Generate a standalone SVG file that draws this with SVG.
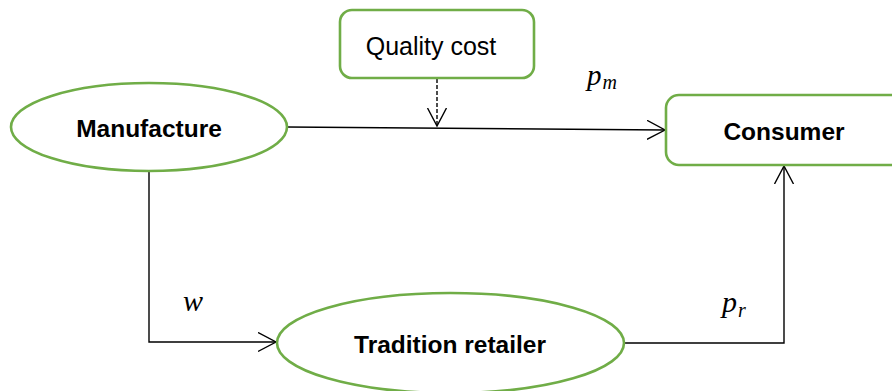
<svg xmlns="http://www.w3.org/2000/svg" width="892" height="391" viewBox="0 0 892 391">
  <style>
    .node { fill: #ffffff; stroke: #70ad47; stroke-width: 2.6; }
    .label { font-family: "Liberation Sans", Arial, sans-serif; fill: #000000; text-anchor: middle; }
    .bold { font-weight: bold; font-size: 24.5px; }
    .reg { font-size: 25px; }
    .link { fill: none; stroke: #000000; stroke-width: 1.4; }
    .dash { stroke-dasharray: 4 2; }
    .math { font-family: "Liberation Serif", "Times New Roman", serif; font-style: italic; fill: #000000; }
  </style>
  <defs>
    <marker id="chev" markerUnits="userSpaceOnUse" markerWidth="20" markerHeight="22" refX="18" refY="10" orient="auto" viewBox="0 0 20 22">
      <path d="M0,0.5 L18,10 L0,19.5" fill="none" stroke="#000000" stroke-width="1.4"/>
    </marker>
  </defs>
  <rect width="892" height="391" fill="#ffffff"/>

  <g id="connectors">
    <path class="link" d="M287,127 L665,130" marker-end="url(#chev)"/>
    <path class="link dash" d="M437,79 L437,126" marker-end="url(#chev)"/>
    <path class="link" d="M149,171 L149,342 L276,342" marker-end="url(#chev)"/>
    <path class="link" d="M624,343 L784,343 L784,166" marker-end="url(#chev)"/>
  </g>

  <g id="quality-cost">
    <rect class="node" x="340" y="10" width="194" height="68" rx="12"/>
    <text class="label reg" x="431" y="55">Quality cost</text>
  </g>

  <g id="manufacture">
    <ellipse class="node" cx="149" cy="127" rx="138" ry="44"/>
    <text class="label bold" x="149" y="137">Manufacture</text>
  </g>

  <g id="consumer">
    <rect class="node" x="666" y="95" width="240" height="70" rx="13"/>
    <text class="label bold" x="784" y="140">Consumer</text>
  </g>

  <g id="tradition-retailer">
    <ellipse class="node" cx="450.5" cy="343" rx="173.5" ry="50"/>
    <text class="label bold" x="450" y="353">Tradition retailer</text>
  </g>

  <g id="labels">
    <text class="math" x="587" y="85" font-size="29">p<tspan font-size="20" dy="4" dx="1">m</tspan></text>
    <text class="math" x="183" y="311" font-size="30">w</text>
    <text class="math" x="722" y="312" font-size="30">p<tspan font-size="20" dy="5" dx="1">r</tspan></text>
  </g>
</svg>
